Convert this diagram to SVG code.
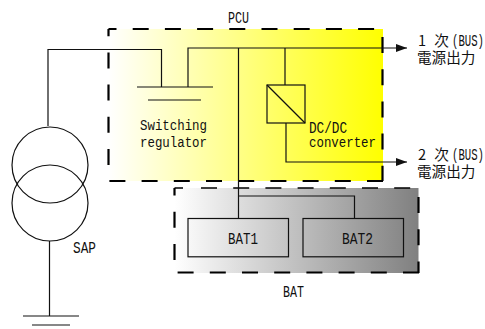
<svg xmlns="http://www.w3.org/2000/svg" width="485" height="329" viewBox="0 0 485 329">
<style>
.w{fill:none;stroke:#111;stroke-width:1.2}
.d{fill:none;stroke:#000;stroke-width:2.2;stroke-dasharray:16 16.200}
text{font-family:"Liberation Mono",monospace;font-size:15.500px;fill:#111}
.c{font-size:17px}
.j{font-family:"Noto Sans CJK JP",sans-serif;font-size:14.600px}
</style>
<defs>
<linearGradient id="gy"><stop offset="0" stop-color="#fff"/><stop offset="1" stop-color="#ff0"/></linearGradient>
<linearGradient id="gb"><stop offset="0" stop-color="#fff"/><stop offset="1" stop-color="#808080"/></linearGradient>
<marker id="a" markerUnits="userSpaceOnUse" markerWidth="11" markerHeight="8" refX="11" refY="4" orient="auto"><path d="M0 0L11 4L0 8Z" fill="#111"/></marker>
</defs>
<g id="pcu"><rect x="108.500" y="29" width="274.500" height="152" fill="url(#gy)"/>
<path class="d" d="M108.500 29H383" stroke-dashoffset="8"/><path class="d" d="M382.500 37V181"/><path class="d" d="M383 181H108"/><path class="d" d="M108.500 165V29"/>
<text class="c" x="228" y="23" textLength="21" lengthAdjust="spacingAndGlyphs">PCU</text></g>
<g id="bat"><rect x="174.500" y="188" width="244" height="85" fill="url(#gb)"/>
<path class="d" style="stroke-width:1.600" d="M174.500 188H183M201 188H419" /><path class="d" d="M418.500 197V273"/><path class="d" d="M419 272.500H174"/><path class="d" d="M174.500 260V188"/>
<text class="c" x="283" y="297" textLength="21" lengthAdjust="spacingAndGlyphs">BAT</text></g>
<g id="connectors">
<path class="w" d="M48 126V49.500H161.500V87M188 87V48H407" marker-end="url(#a)"/>
<path class="w" d="M238.500 48V218M285 48V85M238.500 196H354.500V218M23 316H79M49.500 241V316"/>
<path class="w" d="M286 123V162H407" marker-end="url(#a)"/>
<path class="w" d="M137 87H213M148 100H201M32 325H70"/>
</g>
<g id="sap"><circle cx="50" cy="165" r="38" class="w"/><circle cx="50" cy="203" r="38" class="w"/><text class="c" x="73" y="253" textLength="23" lengthAdjust="spacingAndGlyphs">SAP</text></g>
<g id="regulator"><text x="140" y="130" textLength="67" lengthAdjust="spacingAndGlyphs">Switching</text><text x="140" y="147" textLength="67" lengthAdjust="spacingAndGlyphs">regulator</text></g>
<g id="dcdc"><rect x="267" y="85" width="38" height="38" class="w"/><path class="w" d="M267 85L305 123"/><text class="c" x="309" y="133" textLength="38" lengthAdjust="spacingAndGlyphs">DC/DC</text><text x="309" y="147" textLength="67" lengthAdjust="spacingAndGlyphs">converter</text></g>
<g id="bat1"><rect x="188" y="218.500" width="100.500" height="38.300" class="w"/><text class="c" x="228" y="243.500" textLength="30" lengthAdjust="spacingAndGlyphs">BAT1</text></g>
<g id="bat2"><rect x="303" y="218.500" width="100.500" height="38.300" class="w"/><text class="c" x="342" y="243.500" textLength="31" lengthAdjust="spacingAndGlyphs">BAT2</text></g>
<g id="out1"><text class="j" y="45.500"><tspan x="418">1</tspan><tspan x="431"> 次</tspan></text><text class="c" x="452" y="45.500" textLength="32" lengthAdjust="spacingAndGlyphs">(BUS)</text><text x="417" y="63" class="j">電源出力</text></g>
<g id="out2"><text class="j" y="159.500"><tspan x="418">2</tspan><tspan x="431"> 次</tspan></text><text class="c" x="452" y="159.500" textLength="32" lengthAdjust="spacingAndGlyphs">(BUS)</text><text x="417" y="177" class="j">電源出力</text></g>
</svg>
